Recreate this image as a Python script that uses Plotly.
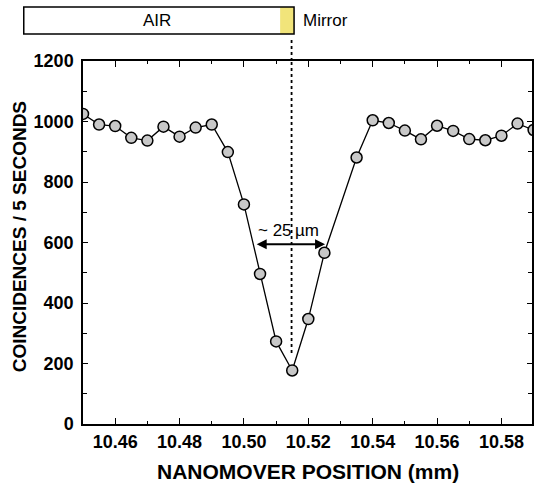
import plotly.graph_objects as go

# Data
positions_mm = [10.450, 10.455, 10.460, 10.465, 10.470, 10.475, 10.480, 10.485,
                10.490, 10.495, 10.500, 10.505, 10.510, 10.515, 10.520, 10.525,
                10.535, 10.540, 10.545, 10.550, 10.555, 10.560, 10.565, 10.570,
                10.575, 10.580, 10.585, 10.590]
coincidences = [1025, 990, 985, 946, 937, 983, 950, 980,
                990, 899, 726, 496, 273, 177, 347, 566,
                881, 1004, 995, 970, 941, 986, 969, 942,
                938, 953, 993, 972]

x_tick_vals = [10.46, 10.48, 10.50, 10.52, 10.54, 10.56, 10.58]
x_tick_text = ["10.46", "10.48", "10.50", "10.52", "10.54", "10.56", "10.58"]
y_tick_vals = [0, 200, 400, 600, 800, 1000, 1200]
y_tick_text = ["0", "200", "400", "600", "800", "1000", "1200"]

mirror_x = 10.5148
fwhm_left, fwhm_right, fwhm_level = 10.5035, 10.5252, 594

W, H = 534, 483
L, R, T, B = 83, 0, 61, 59
plot_w = W - L - R
plot_h = H - T - B
x0r = 10.45
px_per_mm = 3233.0
x1r = x0r + plot_w / px_per_mm

def px_to_paper_x(px):
    return (px - L) / plot_w

def px_to_paper_y(py):
    return (H - B - py) / plot_h

FONT = "Liberation Sans, Arial, Helvetica, sans-serif"

fig = go.Figure()
fig.add_trace(go.Scatter(
    x=positions_mm, y=coincidences, mode="lines+markers",
    line=dict(color="black", width=1.3),
    marker=dict(size=11, color="#c8c8c8", line=dict(color="black", width=1.5)),
    showlegend=False,
))

# dotted mirror line (inside plot, and continuing above the frame)
fig.add_shape(type="line", xref="x", yref="y", x0=mirror_x, x1=mirror_x,
              y0=235, y1=1200,
              line=dict(color="black", width=1.8, dash="dot"), layer="below")
fig.add_shape(type="line", xref="x", yref="paper", x0=mirror_x, x1=mirror_x,
              y0=1.0, y1=px_to_paper_y(39),
              line=dict(color="black", width=1.8, dash="dot"))

# top bar: AIR / mirror
fig.add_shape(type="rect", xref="paper", yref="paper",
              x0=px_to_paper_x(281), x1=px_to_paper_x(295),
              y0=px_to_paper_y(34), y1=px_to_paper_y(7),
              line=dict(width=0), fillcolor="#f1e47a")
fig.add_shape(type="rect", xref="paper", yref="paper",
              x0=px_to_paper_x(23.5), x1=px_to_paper_x(295),
              y0=px_to_paper_y(34), y1=px_to_paper_y(7),
              line=dict(color="black", width=1.5), fillcolor="rgba(0,0,0,0)")

annos = [
    dict(text="AIR", x=px_to_paper_x(157), y=px_to_paper_y(20.5), xref="paper", yref="paper",
         xanchor="center", yanchor="middle",
         showarrow=False, font=dict(size=17, color="black", family=FONT)),
    dict(text="Mirror", x=px_to_paper_x(302), y=px_to_paper_y(20.5), xref="paper", yref="paper",
         xanchor="left", yanchor="middle", showarrow=False,
         font=dict(size=17, color="black", family=FONT)),
    dict(text="~ 25\u2009\u00b5m", x=(fwhm_left + fwhm_right) / 2 - 0.0005, y=640, xref="x", yref="y",
         xanchor="center", yanchor="middle",
         showarrow=False, font=dict(size=17, color="black", family=FONT)),
    dict(text="", x=fwhm_right, y=fwhm_level, ax=fwhm_left, ay=fwhm_level,
         xref="x", yref="y", axref="x", ayref="y", showarrow=True,
         arrowhead=2, arrowside="end+start", arrowsize=1, arrowwidth=2, arrowcolor="black",
         standoff=0, startstandoff=0),
    dict(text="<b>NANOMOVER POSITION (mm)</b>", x=px_to_paper_x(309), y=px_to_paper_y(471),
         xref="paper", yref="paper", xanchor="center", yanchor="middle", showarrow=False,
         font=dict(size=21, color="black", family=FONT)),
    dict(text="<b>COINCIDENCES / 5 SECONDS</b>", x=px_to_paper_x(19), y=px_to_paper_y(237),
         xref="paper", yref="paper", xanchor="center", yanchor="middle",
         showarrow=False, textangle=-90,
         font=dict(size=19, color="black", family=FONT)),
]

fig.update_layout(
    width=W, height=H,
    margin=dict(l=L, r=R, t=T, b=B, pad=0),
    paper_bgcolor="white", plot_bgcolor="white",
    annotations=annos,
    font=dict(family=FONT, color="black"),
)
fig.update_xaxes(
    range=[x0r, x1r], showgrid=False, zeroline=False,
    showline=True, linecolor="black", linewidth=1.5, mirror="ticks",
    ticks="inside", ticklen=6, tickwidth=1.3, tickcolor="black",
    tickvals=x_tick_vals, ticktext=x_tick_text,
    tickfont=dict(size=18, family=FONT, color="black", weight="bold"),
    ticklabelstandoff=1,
    minor=dict(dtick=0.01, tick0=10.45, ticks="inside", ticklen=3, tickwidth=1.2, tickcolor="black"),
)
fig.update_yaxes(
    range=[0, 1200], showgrid=False, zeroline=False,
    showline=True, linecolor="black", linewidth=1.5, mirror="ticks",
    ticks="inside", ticklen=5, tickwidth=1.3, tickcolor="black",
    tickvals=y_tick_vals, ticktext=y_tick_text,
    tickfont=dict(size=18, family=FONT, color="black", weight="bold"),
    ticklabelstandoff=4,
    minor=dict(dtick=100, tick0=0, ticks="inside", ticklen=4, tickwidth=1.2, tickcolor="black"),
)

fig.write_html("out.html")
